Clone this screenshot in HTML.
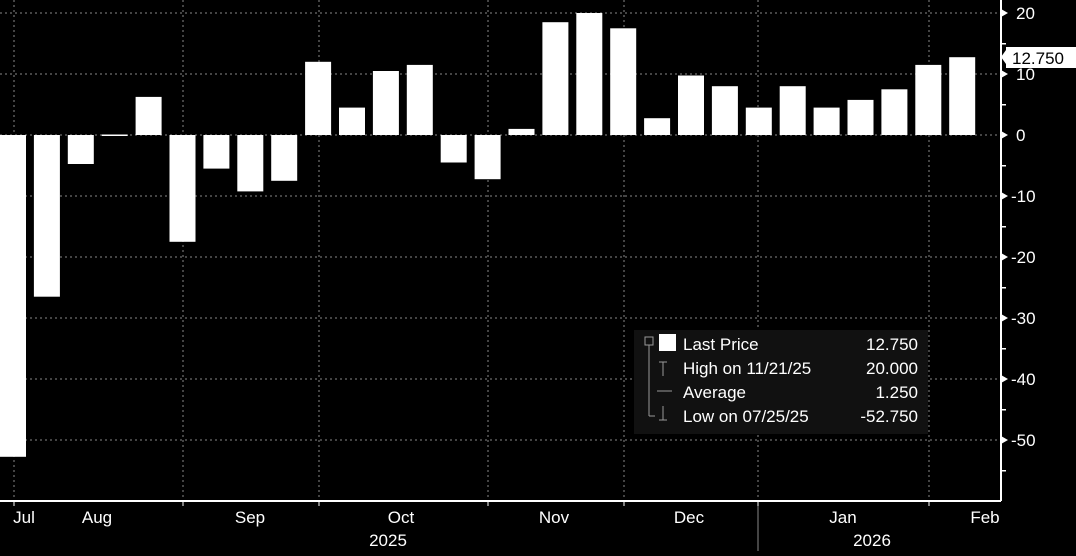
<!DOCTYPE html>
<html><head><meta charset="utf-8"><style>
body{margin:0;background:#000;width:1076px;height:551px;overflow:hidden;font-family:"Liberation Sans",sans-serif}
</style></head><body>
<svg width="1076" height="551" xmlns="http://www.w3.org/2000/svg" font-family="Liberation Sans, sans-serif">
<rect width="1076" height="551" fill="#000"/>
<g stroke="#888" stroke-width="1" stroke-dasharray="2,3">
<line x1="0" y1="13" x2="1001" y2="13"/><line x1="0" y1="74" x2="1001" y2="74"/>
<line x1="0" y1="135" x2="1001" y2="135"/><line x1="0" y1="196" x2="1001" y2="196"/>
<line x1="0" y1="257" x2="1001" y2="257"/><line x1="0" y1="318" x2="1001" y2="318"/>
<line x1="0" y1="379" x2="1001" y2="379"/><line x1="0" y1="440" x2="1001" y2="440"/>
<line x1="14" y1="0" x2="14" y2="501"/><line x1="183" y1="0" x2="183" y2="501"/>
<line x1="319" y1="0" x2="319" y2="501"/><line x1="488" y1="0" x2="488" y2="501"/>
<line x1="624" y1="0" x2="624" y2="501"/><line x1="758" y1="0" x2="758" y2="501"/>
<line x1="929" y1="0" x2="929" y2="501"/>
</g>
<g fill="#fff">
<rect x="0" y="135" width="26" height="321.8"/>
<rect x="33.9" y="135" width="26" height="161.7"/>
<rect x="67.8" y="135" width="26" height="29"/>
<rect x="101.7" y="134.5" width="26" height="1.5"/>
<rect x="135.6" y="96.9" width="26" height="38.1"/>
<rect x="169.5" y="135" width="26" height="106.8"/>
<rect x="203.4" y="135" width="26" height="33.6"/>
<rect x="237.3" y="135" width="26" height="56.4"/>
<rect x="271.2" y="135" width="26" height="45.8"/>
<rect x="305.1" y="61.8" width="26" height="73.2"/>
<rect x="339" y="107.6" width="26" height="27.4"/>
<rect x="372.9" y="71" width="26" height="64"/>
<rect x="406.8" y="64.9" width="26" height="70.1"/>
<rect x="440.7" y="135" width="26" height="27.5"/>
<rect x="474.6" y="135" width="26" height="44.2"/>
<rect x="508.5" y="128.9" width="26" height="6.1"/>
<rect x="542.4" y="22.2" width="26" height="112.8"/>
<rect x="576.3" y="13" width="26" height="122"/>
<rect x="610.2" y="28.3" width="26" height="106.7"/>
<rect x="644.1" y="118.2" width="26" height="16.8"/>
<rect x="678" y="75.5" width="26" height="59.5"/>
<rect x="711.9" y="86.2" width="26" height="48.8"/>
<rect x="745.8" y="107.6" width="26" height="27.4"/>
<rect x="779.7" y="86.2" width="26" height="48.8"/>
<rect x="813.6" y="107.6" width="26" height="27.4"/>
<rect x="847.5" y="99.9" width="26" height="35.1"/>
<rect x="881.4" y="89.3" width="26" height="45.7"/>
<rect x="915.3" y="64.9" width="26" height="70.1"/>
<rect x="949.2" y="57.2" width="26" height="77.8"/>
</g>
<rect x="634" y="330" width="294" height="104" fill="#111"/>
<g fill="#fff" font-size="17">
<rect x="659" y="334" width="17" height="17"/>
<text x="683" y="350">Last Price</text><text x="918" y="350" text-anchor="end">12.750</text>
<text x="683" y="374">High on 11/21/25</text><text x="918" y="374" text-anchor="end">20.000</text>
<text x="683" y="398">Average</text><text x="918" y="398" text-anchor="end">1.250</text>
<text x="683" y="422">Low on 07/25/25</text><text x="918" y="422" text-anchor="end">-52.750</text>
</g>
<g stroke="#999" fill="none"><rect x="645" y="337" width="8" height="8"/><line x1="649" y1="345" x2="649" y2="416"/><line x1="649" y1="416" x2="655" y2="416"/>
<line x1="663" y1="362" x2="663" y2="376"/><line x1="659" y1="362" x2="667" y2="362"/><line x1="657" y1="391" x2="672" y2="391"/><line x1="663" y1="406" x2="663" y2="420"/><line x1="659" y1="420" x2="667" y2="420"/></g>
<line x1="1001" y1="0" x2="1001" y2="501" stroke="#fff" stroke-width="2"/>
<line x1="0" y1="501" x2="1001" y2="501" stroke="#fff" stroke-width="2"/>
<g fill="#fff" font-size="17">
<polygon points="1001,9 1008,13 1001,17"/><text x="1016" y="19">20</text>
<polygon points="1001,70 1008,74 1001,78"/><text x="1016" y="80">10</text>
<polygon points="1001,131 1008,135 1001,139"/><text x="1016" y="141">0</text>
<polygon points="1001,192 1008,196 1001,200"/><text x="1011" y="202">-10</text>
<polygon points="1001,253 1008,257 1001,261"/><text x="1011" y="263">-20</text>
<polygon points="1001,314 1008,318 1001,322"/><text x="1011" y="324">-30</text>
<polygon points="1001,375 1008,379 1001,383"/><text x="1011" y="385">-40</text>
<polygon points="1001,436 1008,440 1001,444"/><text x="1011" y="446">-50</text>
<rect x="1001" y="43" width="5" height="1.5"/><rect x="1001" y="104" width="5" height="1.5"/>
<rect x="1001" y="165" width="5" height="1.5"/><rect x="1001" y="226" width="5" height="1.5"/>
<rect x="1001" y="287" width="5" height="1.5"/><rect x="1001" y="348" width="5" height="1.5"/>
<rect x="1001" y="409" width="5" height="1.5"/><rect x="1001" y="470" width="5" height="1.5"/>
</g>
<rect x="1006" y="47" width="70" height="21" fill="#fff"/>
<polygon points="1001,57 1006,50 1006,64" fill="#fff"/>
<text x="1012" y="64" font-size="17" fill="#000">12.750</text>
<g fill="#fff" font-size="17" text-anchor="middle">
<text x="24" y="523">Jul</text><text x="97" y="523">Aug</text><text x="250" y="523">Sep</text>
<text x="401" y="523">Oct</text><text x="554" y="523">Nov</text><text x="689" y="523">Dec</text>
<text x="843" y="523">Jan</text><text x="985" y="523">Feb</text>
<text x="388" y="546">2025</text><text x="872" y="546">2026</text>
</g>
<line x1="758" y1="506" x2="758" y2="551" stroke="#888"/>
<g stroke="#fff"><line x1="14" y1="501" x2="14" y2="506"/><line x1="183" y1="501" x2="183" y2="506"/><line x1="319" y1="501" x2="319" y2="506"/><line x1="488" y1="501" x2="488" y2="506"/><line x1="624" y1="501" x2="624" y2="506"/><line x1="758" y1="501" x2="758" y2="506"/><line x1="929" y1="501" x2="929" y2="506"/></g>
</svg>
</body></html>
